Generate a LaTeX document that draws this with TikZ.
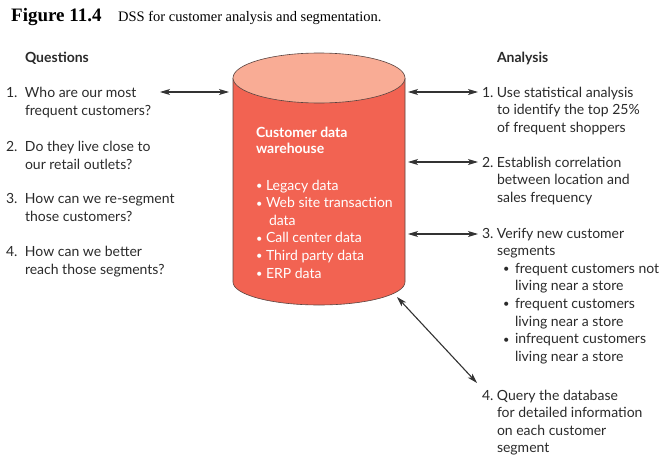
\documentclass[tikz,border=0pt]{standalone}
\usepackage{fontspec}
\setmainfont{Lato}
\newfontfamily\titlefont{Liberation Serif}
\usetikzlibrary{arrows.meta}
\definecolor{cylbody}{HTML}{F26352}
\definecolor{cyltop}{HTML}{F9AC95}
\definecolor{cylline}{HTML}{5A4440}
\definecolor{arrowgray}{HTML}{333333}
\definecolor{txtgray}{HTML}{2A2A2A}
\newcommand{\smbul}{\raisebox{0.5pt}{\fontsize{11}{11}\selectfont\textbullet}}
\tikzset{
  txt/.style={anchor=base west, inner sep=0pt, outer sep=0pt, text=txtgray, font=\fontsize{14}{18.5}\selectfont},
  atxt/.style={txt, font=\fontsize{14}{17.6}\selectfont},
  ctxt/.style={txt, text=white, font=\fontsize{14}{17.6}\selectfont},
  head/.style={txt, font=\fontsize{14}{17}\selectfont\bfseries},
  link/.style={draw=arrowgray, line width=1.1pt, {Stealth[length=10pt,width=6pt,inset=2.5pt]}-{Stealth[length=10pt,width=6pt,inset=2.5pt]}},
}
\begin{document}
\begin{tikzpicture}[x=1pt,y=-1pt]
\useasboundingbox (0,0) rectangle (665,463);
% title
\node[anchor=base west, inner sep=0pt, font=\titlefont\fontsize{19}{20}\selectfont\bfseries] (fig) at (11,21) {Figure 11.4};
\node[anchor=base west, inner sep=0pt, font=\titlefont\fontsize{14.5}{16}\selectfont] (cap) at (118,21) {DSS for customer analysis and segmentation.};
% headings
\node[head] (hq) at (25,62) {Questions};
\node[head] (ha) at (497,62) {Analysis};
% cylinder
\fill[cylbody] (233,78) -- (233,282) arc[start angle=180, end angle=0, x radius=86, y radius=23] -- (405,78) -- cycle;
\draw[cylline, line width=0.6pt] (233,78) -- (233,282) arc[start angle=180, end angle=0, x radius=86, y radius=23] -- (405,78);
\draw[cylline, line width=0.6pt, fill=cyltop] (319,78) ellipse[x radius=86, y radius=25];
\coordinate (dwL) at (229,92);
\coordinate (dwR1) at (408,92);
\coordinate (dwR2) at (408,162);
\coordinate (dwR3) at (408,234);
\coordinate (dwB) at (397,297);
\node[ctxt, font=\fontsize{14}{16.5}\selectfont\bfseries] (dwt) at (256,137) {\begin{tabular}[t]{@{}l@{}}Customer data\\warehouse\end{tabular}};
\node[ctxt] (dwl) at (256,190) {\begin{tabular}[t]{@{}p{10pt}@{}l@{}}\smbul&Legacy data\\\smbul&Web site transaction\\&\hspace{3pt}data\\\smbul&Call center data\\\smbul&Third party data\\\smbul&ERP data\end{tabular}};
% questions
\node[txt] (q1) at (6,97) {\begin{tabular}[t]{@{}p{19pt}@{}l@{}}1.&Who are our most\\&frequent customers?\end{tabular}};
\node[txt] (q2) at (6,151) {\begin{tabular}[t]{@{}p{19pt}@{}l@{}}2.&Do they live close to\\&our retail outlets?\end{tabular}};
\node[txt] (q3) at (6,203) {\begin{tabular}[t]{@{}p{19pt}@{}l@{}}3.&How can we re-segment\\&those customers?\end{tabular}};
\node[txt] (q4) at (6,256) {\begin{tabular}[t]{@{}p{19pt}@{}l@{}}4.&How can we better\\&reach those segments?\end{tabular}};
\coordinate (q1e) at (160,92);
% analysis
\node[atxt] (a1) at (482,97) {\begin{tabular}[t]{@{}p{15pt}@{}l@{}}1.&Use statistical analysis\\&to identify the top 25\%\\&of frequent shoppers\end{tabular}};
\node[atxt] (a2) at (482,167) {\begin{tabular}[t]{@{}p{15pt}@{}l@{}}2.&Establish correlation\\&between location and\\&sales frequency\end{tabular}};
\node[atxt] (a3) at (482,238) {\begin{tabular}[t]{@{}p{15pt}@{}l@{}}3.&Verify new customer\\&segments\\&\hspace{6pt}\makebox[12pt][l]{\smbul}frequent customers not\\&\hspace{18pt}living near a store\\&\hspace{6pt}\makebox[12pt][l]{\smbul}frequent customers\\&\hspace{18pt}living near a store\\&\hspace{6pt}\makebox[12pt][l]{\smbul}infrequent customers\\&\hspace{18pt}living near a store\end{tabular}};
\node[atxt] (a4) at (482,400) {\begin{tabular}[t]{@{}p{15pt}@{}l@{}}4.&Query the database\\&for detailed information\\&on each customer\\&segment\end{tabular}};
\coordinate (a1w) at (478,92);
\coordinate (a2w) at (478,162);
\coordinate (a3w) at (478,234);
\coordinate (a4w) at (477,383);
% connectors
\draw[link] (q1e) -- (dwL);
\draw[link] (dwR1) -- (a1w);
\draw[link] (dwR2) -- (a2w);
\draw[link] (dwR3) -- (a3w);
\draw[link] (dwB) -- (a4w);
\end{tikzpicture}
\end{document}
